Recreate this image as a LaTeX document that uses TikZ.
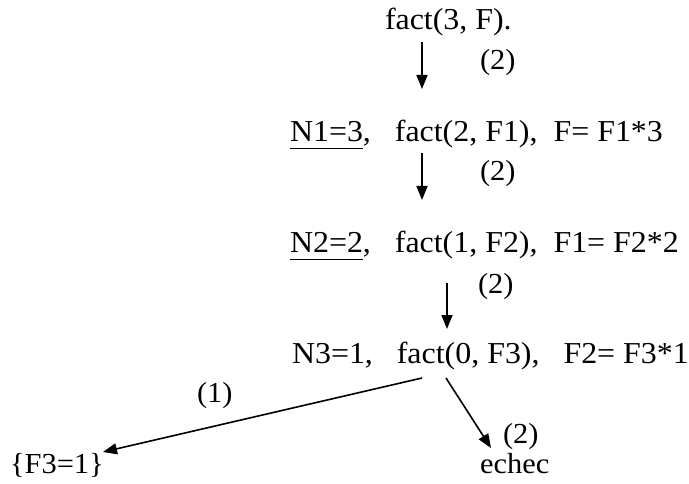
\documentclass[tikz,border=0pt]{standalone}
\usepackage{fontspec}
\setmainfont{Liberation Serif}[FakeStretch=1.05]
\usetikzlibrary{arrows.meta}
\begin{document}
\begin{tikzpicture}[x=1pt,y=-1pt,
  txt/.style={anchor=base west,inner sep=0pt,outer sep=0pt,font=\fontsize{30.4}{34}\selectfont},
  lbl/.style={anchor=base west,inner sep=0pt,outer sep=0pt,font=\fontsize{29}{32}\selectfont},
  arr/.style={line width=1.6pt,-{Triangle[length=14pt,width=11pt]}}]
\useasboundingbox (0,0) rectangle (689,484);
% line 1
\node[txt] (l1) at (385,30) {fact(3, F).};
\node[lbl] (p1) at (480,70) {(2)};
% line 2
\node[txt] (l2) at (290,142) {\underline{N1=3\vphantom{,}},\ \ \ fact(2, F1),\ \ F= F1*3};
\node[lbl] (p2) at (480,181) {(2)};
% line 3
\node[txt] (l3) at (290,253) {\underline{N2=2\vphantom{,}},\ \ \ fact(1, F2),\ \ F1= F2*2};
\node[lbl] (p3) at (478,294) {(2)};
% line 4
\node[txt] (l4) at (292,363) {N3=1,\ \ \ fact(0, F3),\ \ \ F2= F3*1};
% bottom
\node[lbl] (q1) at (197,402) {(1)};
\node[lbl] (q2) at (503,443) {(2)};
\node[lbl] (res) at (10,473) {\{F3=1\}};
\node[lbl] (ech) at (480,473) {echec};
% arrow end points
\coordinate (a1s) at (422,42);  \coordinate (a1e) at (422,89);
\coordinate (a2s) at (422,153); \coordinate (a2e) at (422,200);
\coordinate (a3s) at (447,283); \coordinate (a3e) at (447,329);
\coordinate (b1s) at (422,378); \coordinate (b1e) at (103,452);
\coordinate (b2s) at (446,378); \coordinate (b2e) at (491,448);
\draw[arr] (a1s) -- (a1e);
\draw[arr] (a2s) -- (a2e);
\draw[arr] (a3s) -- (a3e);
\draw[arr] (b1s) -- (b1e);
\draw[arr] (b2s) -- (b2e);
\end{tikzpicture}
\end{document}
